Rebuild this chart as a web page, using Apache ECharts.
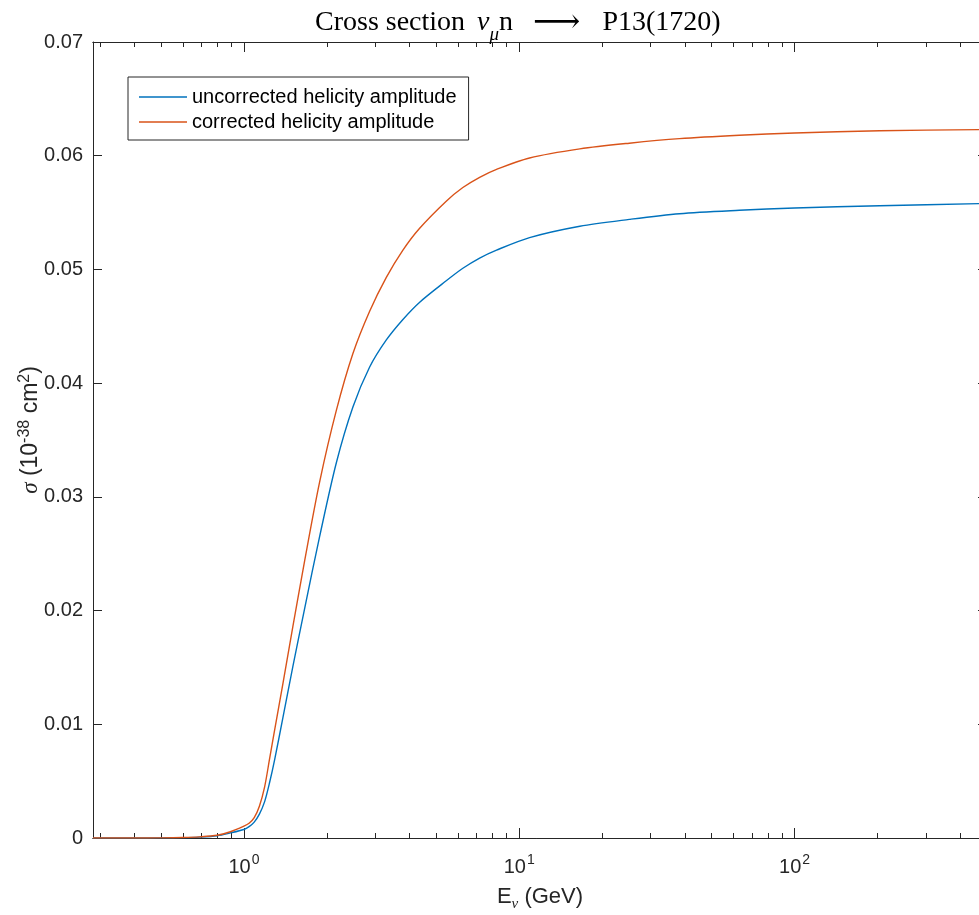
<!DOCTYPE html>
<html>
<head>
<meta charset="utf-8">
<script src="https://cdn.jsdelivr.net/npm/echarts@6/dist/echarts.min.js"></script>
<style>
  html, body { margin: 0; padding: 0; background: #fff; }
  #chart { width: 979px; height: 915px; }
</style>
</head>
<body>
<div id="chart"></div>
<script>
// neutrino energy (GeV)
const energies = [0.283, 0.4, 0.5, 0.6, 0.69, 0.8, 0.887, 1.0, 1.044, 1.09, 1.138, 1.189,
  1.24, 1.293, 1.386, 1.506, 1.662, 1.883, 2.166, 2.488, 2.859, 3.29, 3.78, 4.34, 5.43,
  6.24, 7.18, 8.27, 10.9, 16.6, 25.1, 38.2, 63, 100, 204, 500];
// sigma (1e-38 cm^2)
const uncorrected = [0, 0, 0.00001, 0.00003, 0.00008, 0.0002, 0.00043, 0.00075, 0.0010,
  0.0014, 0.0021, 0.0032, 0.0049, 0.0069, 0.0106, 0.0151, 0.0202, 0.0265, 0.0330, 0.0379,
  0.0414, 0.0438, 0.0456, 0.0471, 0.0490, 0.0501, 0.0510, 0.0517, 0.0528, 0.0538, 0.0544,
  0.0549, 0.0552, 0.0554, 0.0556, 0.0558];
const corrected = [0, 0, 0.00001, 0.00004, 0.0001, 0.00024, 0.00053, 0.00105, 0.0013,
  0.0018, 0.0028, 0.0045, 0.0070, 0.0095, 0.0136, 0.0186, 0.0244, 0.0313, 0.0376, 0.0426,
  0.0463, 0.0493, 0.0517, 0.0536, 0.0560, 0.0572, 0.0581, 0.0588, 0.0598, 0.0606, 0.0611,
  0.0615, 0.0618, 0.0620, 0.0622, 0.0623];
const majorTicks = [1, 10, 100];
const minorTicks = [0.3, 0.4, 0.5, 0.6, 0.7, 0.8, 0.9, 2, 3, 4, 5, 6, 7, 8, 9,
  20, 30, 40, 50, 60, 70, 80, 90, 200, 300, 400, 500];
const xMin = 0.283;
const xMax = 500;
const yMax = 0.07;
const yStep = 0.01;

const axisColor = '#262626';
const blue = '#0072BD';
const orange = '#D95319';
const sans = 'Liberation Sans, Arial, Helvetica, sans-serif';
const serif = 'Liberation Serif, DejaVu Serif, serif';

const chart = echarts.init(document.getElementById('chart'));

const logAxis = (position, ticks, len, showLabel) => ({
  type: 'log',
  logBase: 10,
  position,
  min: xMin,
  max: xMax,
  gridIndex: 0,
  axisLine: { show: true, onZero: false, lineStyle: { color: axisColor, width: 1 } },
  axisTick: { show: true, inside: true, length: len, customValues: ticks, lineStyle: { color: axisColor } },
  axisLabel: {
    show: showLabel,
    customValues: majorTicks,
    margin: 15,
    formatter: v => '{b|10}{s|' + Math.round(Math.log10(v)) + '}',
    rich: {
      b: { fontSize: 20, fontFamily: sans, color: axisColor, lineHeight: 24, verticalAlign: 'bottom' },
      s: { fontSize: 14, fontFamily: sans, color: axisColor, lineHeight: 24, verticalAlign: 'top', padding: [0, 0, 0, 1] }
    }
  },
  splitLine: { show: false },
  minorTick: { show: false },
  minorSplitLine: { show: false }
});

const xBottom = logAxis('bottom', majorTicks, 10, true);
xBottom.name = 'E{sub|ν} (GeV)';
xBottom.nameLocation = 'middle';
xBottom.nameGap = 44;
xBottom.nameMoveOverlap = false;
xBottom.nameTextStyle = {
  fontSize: 22, fontFamily: sans, color: axisColor, lineHeight: 26,
  rich: {
    sub: { fontSize: 15, fontFamily: serif, fontStyle: 'italic', color: axisColor, verticalAlign: 'bottom', lineHeight: 30 }
  }
};

const linAxis = (position, showLabel) => ({
  type: 'value',
  position,
  min: 0,
  max: yMax,
  interval: yStep,
  axisLine: { show: true, onZero: false, lineStyle: { color: axisColor, width: 1 } },
  axisTick: { show: true, inside: true, length: 9, lineStyle: { color: axisColor } },
  axisLabel: {
    show: showLabel,
    margin: 10,
    fontSize: 20,
    fontFamily: sans,
    color: axisColor,
    formatter: v => (v === 0 ? '0' : v.toFixed(2))
  },
  splitLine: { show: false }
});

const yLeft = linAxis('left', true);
yLeft.name = '{g|σ} (10{sup|-38} cm{sup|2})';
yLeft.nameLocation = 'middle';
yLeft.nameGap = 48;
yLeft.nameMoveOverlap = false;
yLeft.nameTextStyle = {
  fontSize: 23, fontFamily: sans, color: axisColor, padding: [0, 0, 0, 20],
  rich: {
    g: { fontSize: 23, fontFamily: serif, fontStyle: 'italic', color: axisColor, lineHeight: 28 },
    sup: { fontSize: 16, fontFamily: sans, color: axisColor, verticalAlign: 'top', lineHeight: 28 }
  }
};

const option = {
  animation: false,
  backgroundColor: '#fff',
  title: {
    text: 'Cross section{i|ν}{s|μ}n{a|⟶}P13(1720)',
    left: 310,
    top: -3,
    textStyle: {
      fontSize: 28,
      fontWeight: 'normal',
      fontFamily: serif,
      color: '#000',
      lineHeight: 34,
      rich: {
        i: { fontSize: 28, fontFamily: serif, fontStyle: 'italic', color: '#000', lineHeight: 34, padding: [0, 0, 0, 12] },
        s: { fontSize: 19, fontFamily: serif, fontStyle: 'italic', color: '#000', verticalAlign: 'bottom', lineHeight: 42 },
        a: { fontSize: 33, fontFamily: 'DejaVu Serif, DejaVu Sans', color: '#000', lineHeight: 34, padding: [0, 22, 0, 20] }
      }
    }
  },
  legend: {
    left: 128,
    top: 77,
    orient: 'vertical',
    icon: 'rect',
    padding: [10, 12, 8, 11],
    itemGap: 5,
    itemWidth: 48,
    itemHeight: 1.5,
    borderColor: axisColor,
    borderWidth: 1,
    backgroundColor: '#fff',
    textStyle: { fontSize: 20, fontFamily: sans, color: '#000', lineHeight: 20 },
    data: ['uncorrected helicity amplitude', 'corrected helicity amplitude']
  },
  grid: { left: 93, top: 42, width: 894, height: 796, outerBoundsMode: 'none', containLabel: false },
  xAxis: [
    xBottom,
    logAxis('bottom', minorTicks, 5, false),
    logAxis('top', majorTicks, 10, false),
    logAxis('top', minorTicks, 5, false)
  ],
  yAxis: [yLeft, linAxis('right', false)],
  series: [
    {
      name: 'uncorrected helicity amplitude',
      type: 'line',
      symbol: 'none',
      smooth: 0.3,
      lineStyle: { color: blue, width: 1.4 },
      itemStyle: { color: blue },
      data: energies.map((e, i) => [e, uncorrected[i]])
    },
    {
      name: 'corrected helicity amplitude',
      type: 'line',
      symbol: 'none',
      smooth: 0.3,
      lineStyle: { color: orange, width: 1.4 },
      itemStyle: { color: orange },
      data: energies.map((e, i) => [e, corrected[i]])
    }
  ]
};

chart.setOption(option);
</script>
</body>
</html>
